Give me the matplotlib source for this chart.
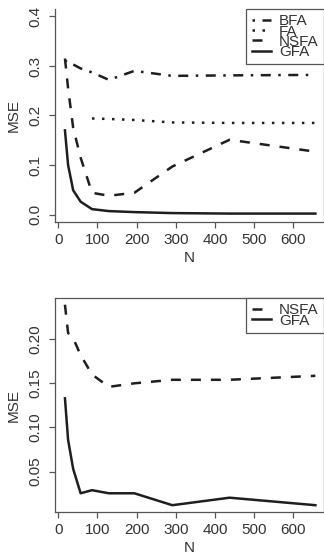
import matplotlib
matplotlib.use("Agg")
import numpy as np
import matplotlib.pyplot as plt

plt.rcParams['font.family'] = ['Liberation Sans', 'DejaVu Sans']

# sample sizes (shared by both panels)
n_vals = [17, 25, 38, 57, 86, 129, 194, 291, 437, 656]

# top panel
bfa_top = [0.312, 0.305, 0.303, 0.295, 0.287, 0.272, 0.290, 0.280, 0.281, 0.282]
fa_top = [np.nan, np.nan, np.nan, np.nan, 0.194, 0.193, 0.191, 0.186, 0.185, 0.185]
nsfa_top = [0.315, 0.255, 0.175, 0.115, 0.044, 0.038, 0.044, 0.097, 0.151, 0.127]
gfa_top = [0.170, 0.100, 0.049, 0.026, 0.011, 0.007, 0.005, 0.003, 0.002, 0.002]

# bottom panel
nsfa_bot = [0.239, 0.207, 0.201, 0.182, 0.160, 0.146, 0.150, 0.154, 0.154, 0.1585]
gfa_bot = [0.133, 0.086, 0.053, 0.0255, 0.029, 0.0255, 0.0255, 0.012, 0.0205, 0.012]

xticks = [0, 100, 200, 300, 400, 500, 600]
yticks_top = [0.0, 0.1, 0.2, 0.3, 0.4]
yticks_bot = [0.05, 0.10, 0.15, 0.20]

LC = '#1e1e1e'
SC = '#555555'
TC = '#333333'
LW = 1.8
FS = 11

styles = {
    'BFA': (0, (1, 3, 4, 3)),
    'FA': (0, (1, 3)),
    'NSFA': (0, (4, 4)),
    'GFA': '-',
}

fig = plt.figure(figsize=(3.24, 5.57), dpi=100)
W, H = 324, 557
ax1 = fig.add_axes([55 / W, 1 - 222 / H, 1 - 55 / W, (222 - 9) / H])
ax2 = fig.add_axes([55 / W, 1 - 512 / H, 1 - 55 / W, (512 - 298) / H])


def style_axes(ax, yticks, yfmt):
    for s in ax.spines.values():
        s.set_color(SC)
        s.set_linewidth(0.9)
    ax.set_xticks(xticks)
    ax.set_yticks(yticks)
    ax.set_yticklabels([yfmt.format(v) for v in yticks], rotation=90, va='center')
    ax.tick_params(direction='out', length=4.3, width=0.9, color=SC,
                   labelsize=FS, labelcolor=TC)
    ax.tick_params(axis='x', pad=3.5)
    ax.tick_params(axis='y', pad=4.5)
    ax.set_xlabel('N', fontsize=FS, color=TC, labelpad=3)
    ax.set_ylabel('MSE', fontsize=FS, color=TC, labelpad=5.5)
    ax.set_xlim(-8.4, 678)


def add_legend(ax):
    leg = ax.legend(loc='upper right', borderaxespad=0, fontsize=FS,
                    frameon=True, fancybox=False, labelspacing=-0.25,
                    handlelength=1.25, handletextpad=0.55, borderpad=0.35)
    fr = leg.get_frame()
    fr.set_edgecolor(SC)
    fr.set_linewidth(0.9)
    fr.set_alpha(1)
    for t in leg.get_texts():
        t.set_color(TC)


for name, vals in [('BFA', bfa_top), ('FA', fa_top), ('NSFA', nsfa_top), ('GFA', gfa_top)]:
    ax1.plot(n_vals, vals, color=LC, lw=LW, linestyle=styles[name],
             dash_capstyle='butt', label=name)
ax1.set_ylim(-0.015, 0.415)
style_axes(ax1, yticks_top, '{:.1f}')
ax1.spines['top'].set_visible(False)
add_legend(ax1)

for name, vals in [('NSFA', nsfa_bot), ('GFA', gfa_bot)]:
    ax2.plot(n_vals, vals, color=LC, lw=LW, linestyle=styles[name],
             dash_capstyle='butt', label=name)
ax2.set_ylim(0.0043, 0.2466)
style_axes(ax2, yticks_bot, '{:.2f}')
add_legend(ax2)

fig.savefig('out.png', dpi=100)
